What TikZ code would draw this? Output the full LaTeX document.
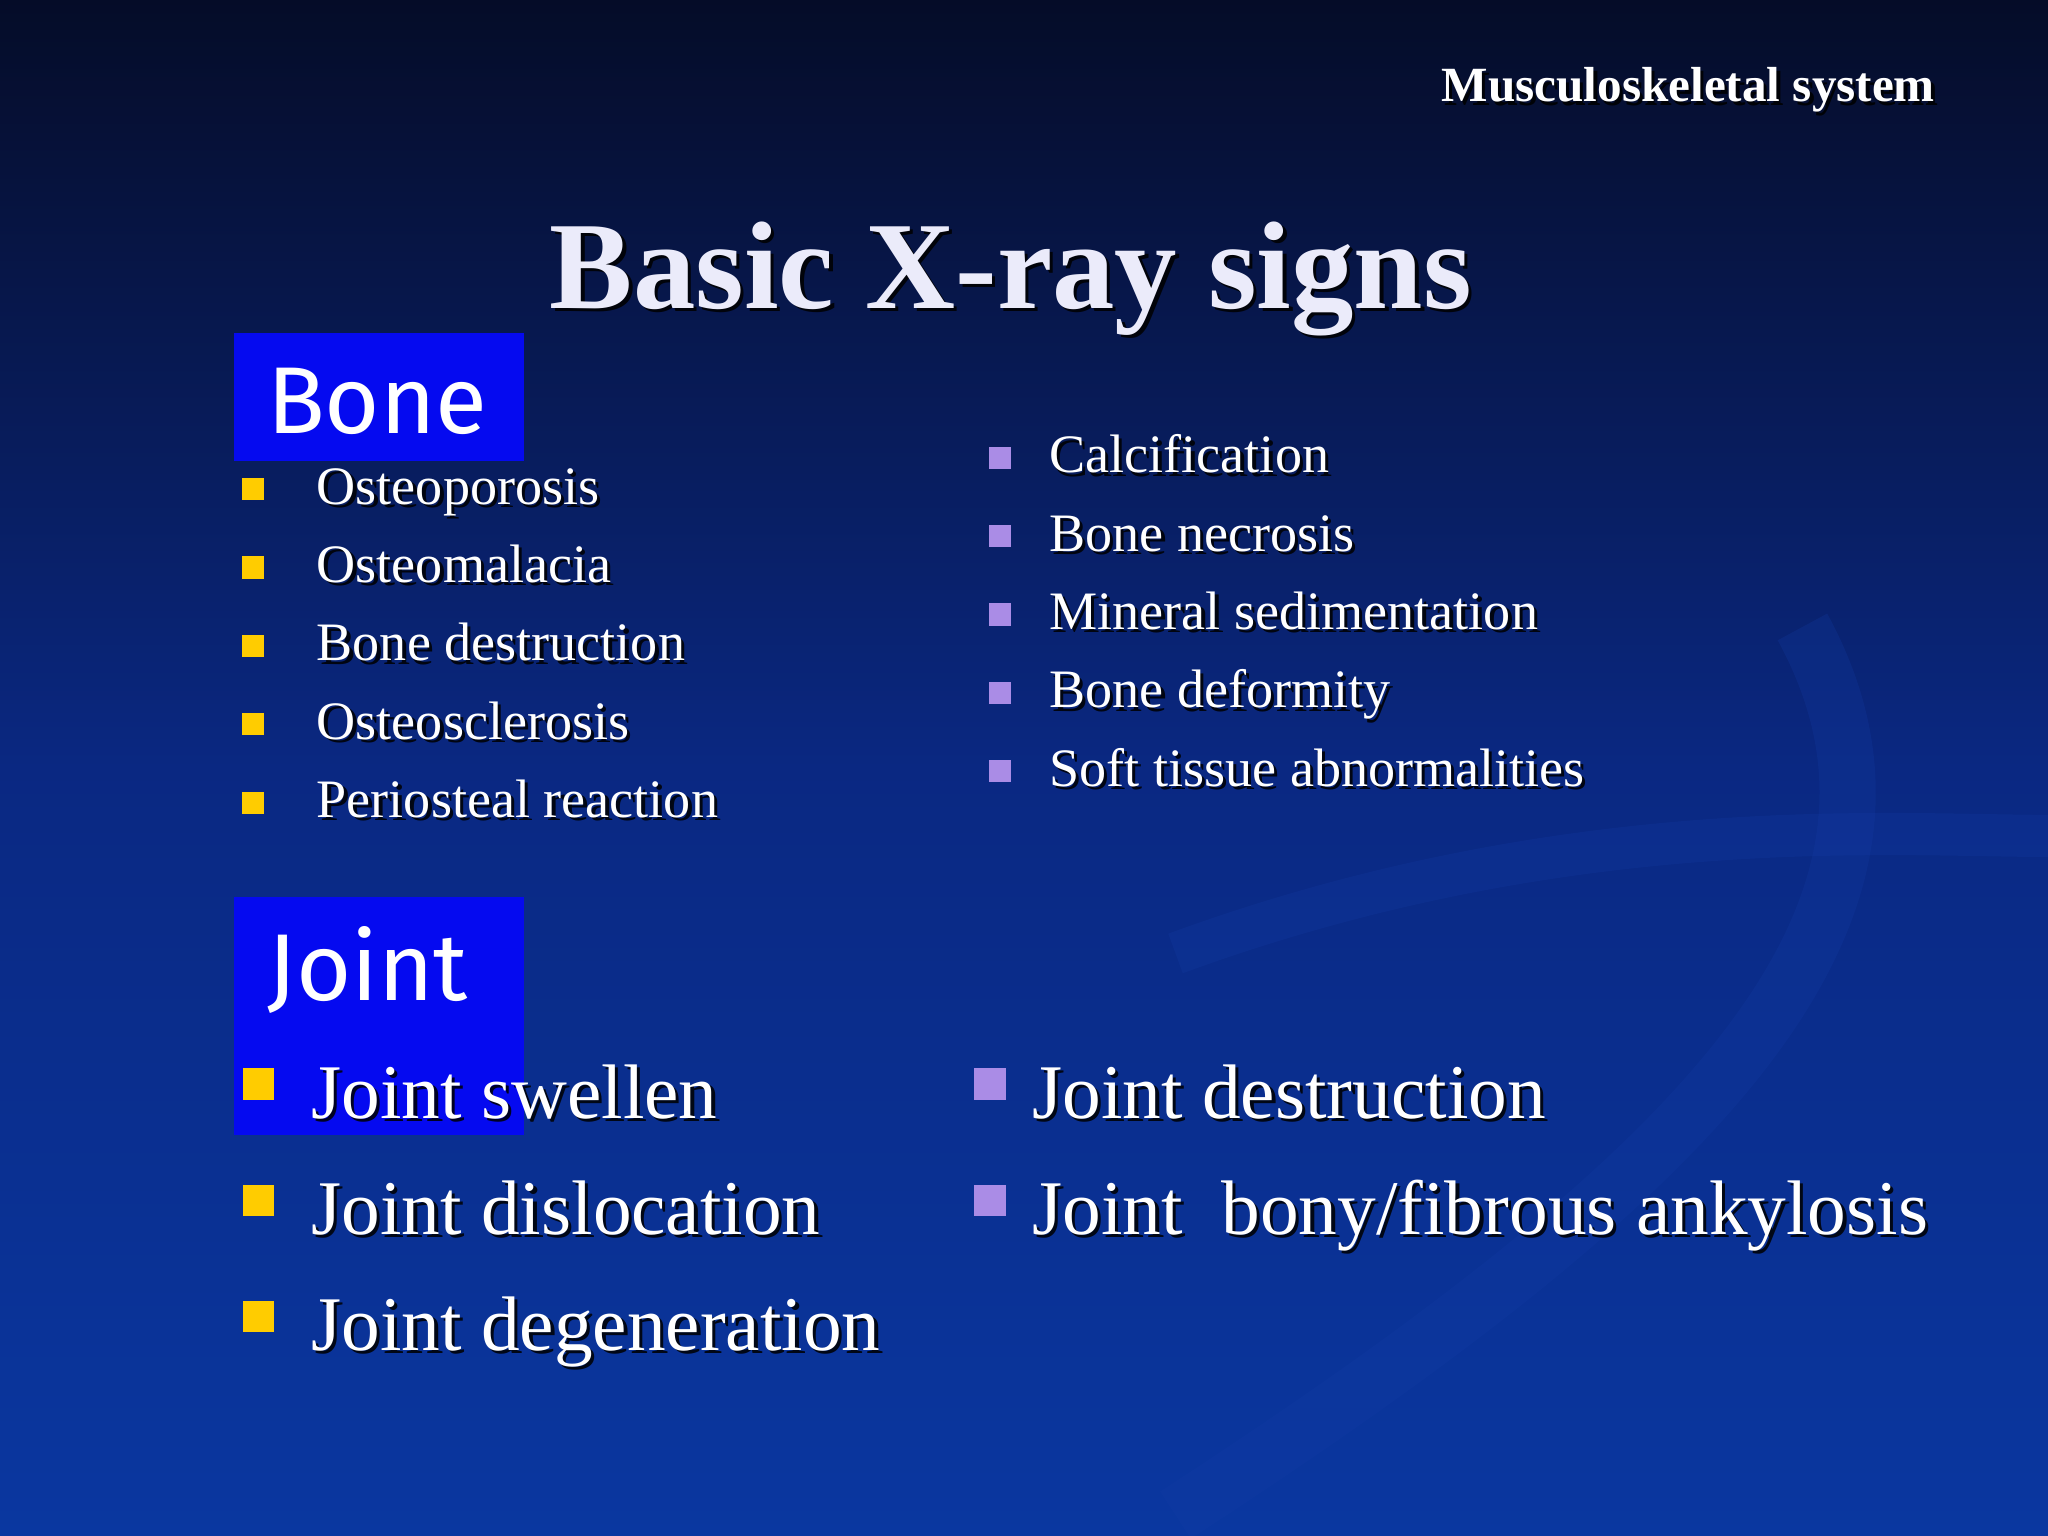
\documentclass[tikz,border=0pt]{standalone}
\usepackage{fontspec}
\usetikzlibrary{calc}
\setmainfont{Liberation Serif}
\newfontfamily\lblfont{Fira Sans}
\newcommand\stxt[4]{\node[#1,text=black,opacity=0.85] at ($(#2)+(2.5,2.5)$) {#4};\node[#1] (#3) at (#2) {#4};}
\begin{document}
\begin{tikzpicture}[x=0.01306cm,y=-0.01306cm,
  itm/.style={anchor=base west,text=white,inner sep=0,font=\fontsize{15.4}{17}\selectfont},
  big/.style={anchor=base west,text=white,inner sep=0,font=\fontsize{22}{24}\selectfont},
  ttl/.style={anchor=base,text={rgb,255:red,235;green,235;blue,250},inner sep=0,font=\bfseries\fontsize{35.5}{38}\selectfont},
  hdr/.style={anchor=base east,text=white,inner sep=0,font=\bfseries\fontsize{14}{16}\selectfont},
  lbltxt/.style={anchor=base west,text=white,inner sep=0,font=\lblfont\fontsize{27}{30}\selectfont},
  ybul/.style={fill={rgb,255:red,255;green,204;blue,0},draw=none},
  pbul/.style={fill={rgb,255:red,170;green,140;blue,230},draw=none},
  lbl/.style={fill={rgb,255:red,5;green,10;blue,240},draw=none}]
\useasboundingbox (0,0) rectangle (1568,1176);
\shade[top color={rgb,255:red,5;green,12;blue,40},bottom color={rgb,255:red,10;green,55;blue,160},middle color={rgb,255:red,10;green,40;blue,130}] (0,0) rectangle (1568,1176);
\draw[line width=16pt,color={rgb,255:red,20;green,60;blue,165},opacity=0.25] (900,1160) .. controls (1300,900) and (1500,700) .. (1380,480);
\draw[line width=12pt,color={rgb,255:red,20;green,60;blue,165},opacity=0.25] (900,730) .. controls (1200,620) and (1450,640) .. (1568,640);
\fill[lbl] (179,255) rectangle (401,353);
\fill[lbl] (179,687) rectangle (401,869);
\node[lbltxt] (bone) at (204,332) {Bone};
\node[lbltxt] (joint) at (204,766) {Joint};
\stxt{hdr}{1482,78}{header}{Musculoskeletal system}
\stxt{ttl}{774,236}{title}{Basic X-ray signs}
\foreach \t [count=\i] in {Osteoporosis,Osteomalacia,Bone destruction,Osteosclerosis,Periosteal reaction}{
  \pgfmathsetmacro\yy{386+60*(\i-1)}
  \fill[ybul] (185,\yy-20) rectangle (202,\yy-3);
  \stxt{itm}{242,\yy}{bl\i}{\t}
}
\foreach \t [count=\i] in {Calcification,Bone necrosis,Mineral sedimentation,Bone deformity,Soft tissue abnormalities}{
  \pgfmathsetmacro\yy{362+60*(\i-1)}
  \fill[pbul] (757,\yy-20) rectangle (774,\yy-3);
  \stxt{itm}{803,\yy}{br\i}{\t}
}
\foreach \t [count=\i] in {Joint swellen,Joint dislocation,Joint degeneration}{
  \pgfmathsetmacro\yy{856+89*(\i-1)}
  \fill[ybul] (186,\yy-38) rectangle (210,\yy-14);
  \stxt{big}{238,\yy}{jl\i}{\t}
}
\foreach \t [count=\i] in {Joint destruction,{Joint\ \ bony/fibrous ankylosis}}{
  \pgfmathsetmacro\yy{856+89*(\i-1)}
  \fill[pbul] (746,\yy-38) rectangle (770,\yy-14);
  \stxt{big}{790,\yy}{jr\i}{\t}
}
\end{tikzpicture}
\end{document}
